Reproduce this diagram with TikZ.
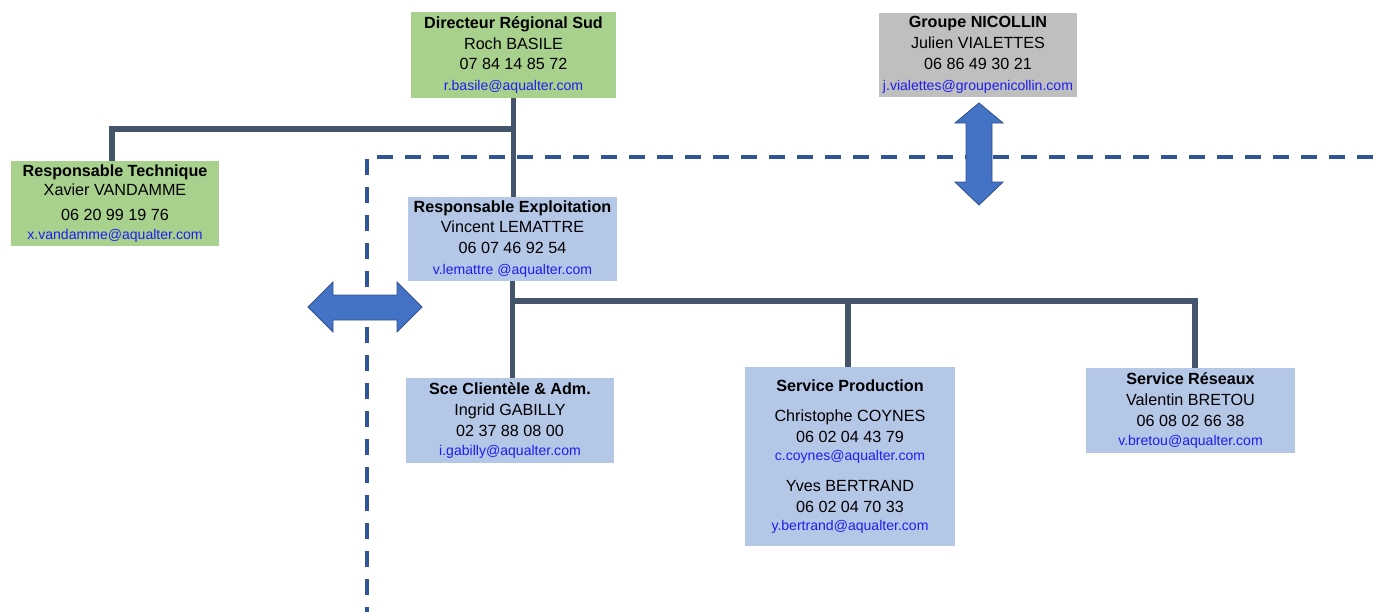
\documentclass[tikz,border=0pt]{standalone}
\usepackage{fontspec}
\setmainfont{Liberation Sans}
\definecolor{vert}{HTML}{A9D18E}
\definecolor{bleuclair}{HTML}{B4C7E7}
\definecolor{gris}{HTML}{BFBFBF}
\definecolor{ardoise}{HTML}{44546A}
\definecolor{pointille}{HTML}{2F5597}
\definecolor{fleche}{HTML}{4472C4}
\definecolor{flechebord}{HTML}{2F528F}
\definecolor{mailbleu}{RGB}{30,30,240}
\newcommand{\mel}[1]{{\fontsize{8}{11.9}\selectfont\color{mailbleu}#1}}

\begin{document}
\begin{tikzpicture}[x=0.02cm, y=-0.02cm,
    fiche/.style={align=center, inner sep=0pt, font=\fontsize{9.2}{11.9}\selectfont, minimum height=1.7cm, minimum width=4.16cm},
    lien/.style={draw=ardoise, line width=3.2pt},
    limite/.style={draw=pointille, line width=2pt, dash pattern=on 0.32cm off 0.24cm},
    doublefleche/.style={fill=fleche, draw=flechebord, line width=0.5pt}]

        \useasboundingbox (0,0) rectangle (1373,612);

        % limite du site
        \draw[limite] (1373,157) -- (367,157) -- (367,612);

        \node[fiche, fill=vert, minimum width=4.1cm, minimum height=1.72cm] at (513.5,55) (dir) {\textbf{Directeur Régional Sud} \\ Roch BASILE \\ 07 84 14 85 72 \\ \mel{r.basile@aqualter.com}};
        \node[fiche, fill=gris, minimum width=3.96cm, minimum height=1.68cm] at (978,55) (nicollin) {\textbf{Groupe NICOLLIN} \\ Julien VIALETTES \\ 06 86 49 30 21 \\ \mel{j.vialettes@groupenicollin.com}};
        \node[fiche, fill=vert] at (115,203.5) (tech) {\textbf{Responsable Technique} \\[-1pt] Xavier VANDAMME \\[2pt] 06 20 99 19 76 \\[-1pt] \mel{x.vandamme@aqualter.com}};
        \node[fiche, fill=bleuclair, minimum width=4.18cm, minimum height=1.68cm] at (512.5,239) (exploit) {\textbf{Responsable Exploitation} \\ Vincent LEMATTRE \\ 06 07 46 92 54 \\ \mel{v.lemattre @aqualter.com}};
        \node[fiche, fill=bleuclair] at (510,420.5) (client) {\textbf{Sce Clientèle \& Adm.} \\ Ingrid GABILLY \\ 02 37 88 08 00 \\[-1pt] \mel{i.gabilly@aqualter.com}};
        \node[fiche, fill=bleuclair, minimum width=4.2cm, minimum height=3.58cm] at (850,456.5) (prod) {\textbf{Service Production} \\[5.5pt] Christophe COYNES \\ 06 02 04 43 79 \\[-1.5pt] \mel{c.coynes@aqualter.com} \\[5.5pt] Yves BERTRAND \\ 06 02 04 70 33 \\[-1.5pt] \mel{y.bertrand@aqualter.com}};
        \node[fiche, fill=bleuclair, minimum width=4.18cm] at (1190.5,410.5) (reseaux) {\textbf{Service Réseaux} \\ Valentin BRETOU \\ 06 08 02 66 38 \\[-1pt] \mel{v.bretou@aqualter.com}};

        \coordinate (nDir) at (514,129);
        \coordinate (nExp) at (510,301);

        \draw[lien] (dir.south) -- (dir.south |- exploit.north);
        \draw[lien] (nDir) -| ([xshift=-0.06cm]tech.north);
        \draw[lien] (exploit.south) -- (exploit.south |- client.north);
        \draw[lien] (nExp) -| ([xshift=-0.04cm]prod.north);
        \draw[lien] (nExp) -| ([xshift=0.09cm]reseaux.north);

        % echanges
        \draw[doublefleche] (308,307) -- (333,282) -- (333,295) -- (397,295) -- (397,282) -- (422,307) -- (397,332) -- (397,320) -- (333,320) -- (333,332) -- cycle;
        \draw[doublefleche] (979,103) -- (1003,123) -- (992,123) -- (992,182) -- (1003,182) -- (979,205) -- (955,182) -- (966,182) -- (966,123) -- (955,123) -- cycle;

    \end{tikzpicture}
\end{document}
